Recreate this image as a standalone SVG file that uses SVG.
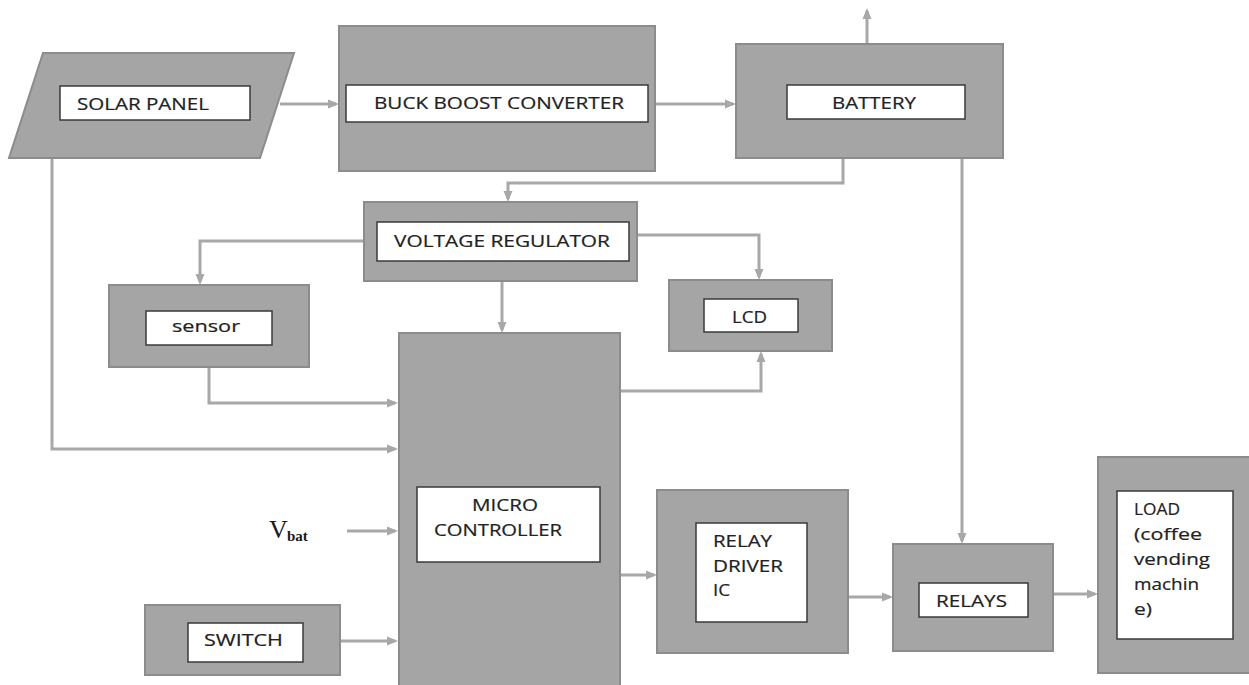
<svg xmlns="http://www.w3.org/2000/svg" width="1249" height="685" viewBox="0 0 1249 685">
<defs>
<style>
.box{fill:#a5a5a5;stroke:#8c8c8c;stroke-width:2}
.inner{fill:#ffffff;stroke:#3a3a3a;stroke-width:1.5}
.lbl{font-family:"Open Sans","Liberation Sans",sans-serif;font-size:16.5px;fill:#222222;stroke:#222222;stroke-width:0.2}
.conn{fill:none;stroke:#a8a8a8;stroke-width:3}
.vb{font-family:"Liberation Serif",serif;fill:#1a1a1a}
</style>
<marker id="ah" markerUnits="userSpaceOnUse" markerWidth="11" markerHeight="10" refX="8" refY="5" orient="auto">
<path d="M0,0.5 L11,5 L0,9.5 z" fill="#a8a8a8"/>
</marker>
</defs>
<rect width="1249" height="685" fill="#ffffff"/>

<g id="connectors">
<path class="conn" marker-end="url(#ah)" d="M280 104 H336"/>
<path class="conn" marker-end="url(#ah)" d="M655 104 H733"/>
<path class="conn" marker-end="url(#ah)" d="M867 44 V11"/>
<path class="conn" marker-end="url(#ah)" d="M843 158 V183 H508 V199"/>
<path class="conn" marker-end="url(#ah)" d="M962 158 V541"/>
<path class="conn" marker-end="url(#ah)" d="M364 241 H200 V282"/>
<path class="conn" marker-end="url(#ah)" d="M637 235 H759 V277"/>
<path class="conn" marker-end="url(#ah)" d="M502 281 V330"/>
<path class="conn" marker-end="url(#ah)" d="M209 367 V403 H395"/>
<path class="conn" marker-end="url(#ah)" d="M52 158 V449 H395"/>
<path class="conn" marker-end="url(#ah)" d="M620 391 H761 V354"/>
<path class="conn" marker-end="url(#ah)" d="M347 531 H395"/>
<path class="conn" marker-end="url(#ah)" d="M340 641 H395"/>
<path class="conn" marker-end="url(#ah)" d="M620 575 H654"/>
<path class="conn" marker-end="url(#ah)" d="M848 597 H890"/>
<path class="conn" marker-end="url(#ah)" d="M1053 594 H1095"/>
</g>

<g id="solar-panel">
<polygon class="box" points="43,53 294,53 260,158 9,158"/>
<rect class="inner" x="60" y="86" width="190" height="34"/>
<text class="lbl" x="77" y="110" textLength="132" lengthAdjust="spacingAndGlyphs">SOLAR PANEL</text>
</g>

<g id="buck-boost">
<rect class="box" x="339" y="26" width="316" height="145"/>
<rect class="inner" x="346" y="85" width="302" height="37"/>
<text class="lbl" x="374" y="109" textLength="250" lengthAdjust="spacingAndGlyphs">BUCK BOOST CONVERTER</text>
</g>

<g id="battery">
<rect class="box" x="736" y="44" width="267" height="114"/>
<rect class="inner" x="787" y="85" width="178" height="34"/>
<text class="lbl" x="832" y="109" textLength="84" lengthAdjust="spacingAndGlyphs">BATTERY</text>
</g>

<g id="voltage-regulator">
<rect class="box" x="364" y="202" width="273" height="79"/>
<rect class="inner" x="377" y="222" width="252" height="39"/>
<text class="lbl" x="394" y="247" textLength="216" lengthAdjust="spacingAndGlyphs">VOLTAGE REGULATOR</text>
</g>

<g id="sensor">
<rect class="box" x="109" y="285" width="200" height="82"/>
<rect class="inner" x="146" y="311" width="126" height="34"/>
<text class="lbl" x="172" y="332" textLength="68" lengthAdjust="spacingAndGlyphs">sensor</text>
</g>

<g id="lcd">
<rect class="box" x="669" y="280" width="163" height="71"/>
<rect class="inner" x="704" y="299" width="94" height="33"/>
<text class="lbl" x="732" y="323" textLength="35" lengthAdjust="spacingAndGlyphs">LCD</text>
</g>

<g id="microcontroller">
<rect class="box" x="399" y="333" width="221" height="360"/>
<rect class="inner" x="417" y="487" width="183" height="75"/>
<text class="lbl" x="472" y="511" textLength="66" lengthAdjust="spacingAndGlyphs">MICRO</text>
<text class="lbl" x="434" y="536" textLength="128" lengthAdjust="spacingAndGlyphs">CONTROLLER</text>
</g>

<g id="vbat">
<text class="vb" x="269" y="538" font-size="26">V</text>
<text class="vb" x="287" y="541" font-size="15" font-weight="bold">bat</text>
</g>

<g id="switch">
<rect class="box" x="145" y="605" width="195" height="70"/>
<rect class="inner" x="188" y="623" width="115" height="39"/>
<text class="lbl" x="204" y="646" textLength="79" lengthAdjust="spacingAndGlyphs">SWITCH</text>
</g>

<g id="relay-driver">
<rect class="box" x="657" y="490" width="191" height="163"/>
<rect class="inner" x="696" y="523" width="111" height="99"/>
<text class="lbl" x="713" y="547" textLength="59" lengthAdjust="spacingAndGlyphs">RELAY</text>
<text class="lbl" x="713" y="572" textLength="70" lengthAdjust="spacingAndGlyphs">DRIVER</text>
<text class="lbl" x="713" y="596" textLength="17" lengthAdjust="spacingAndGlyphs">IC</text>
</g>

<g id="relays">
<rect class="box" x="893" y="544" width="160" height="107"/>
<rect class="inner" x="919" y="583" width="109" height="34"/>
<text class="lbl" x="936" y="607" textLength="71" lengthAdjust="spacingAndGlyphs">RELAYS</text>
</g>

<g id="load">
<rect class="box" x="1098" y="457" width="156" height="216"/>
<rect class="inner" x="1117" y="491" width="116" height="148"/>
<text class="lbl" x="1134" y="515" textLength="46" lengthAdjust="spacingAndGlyphs">LOAD</text>
<text class="lbl" x="1134" y="540" textLength="68" lengthAdjust="spacingAndGlyphs">(coffee</text>
<text class="lbl" x="1134" y="565" textLength="76" lengthAdjust="spacingAndGlyphs">vending</text>
<text class="lbl" x="1134" y="590" textLength="65" lengthAdjust="spacingAndGlyphs">machin</text>
<text class="lbl" x="1134" y="615" textLength="18" lengthAdjust="spacingAndGlyphs">e)</text>
</g>
</svg>
